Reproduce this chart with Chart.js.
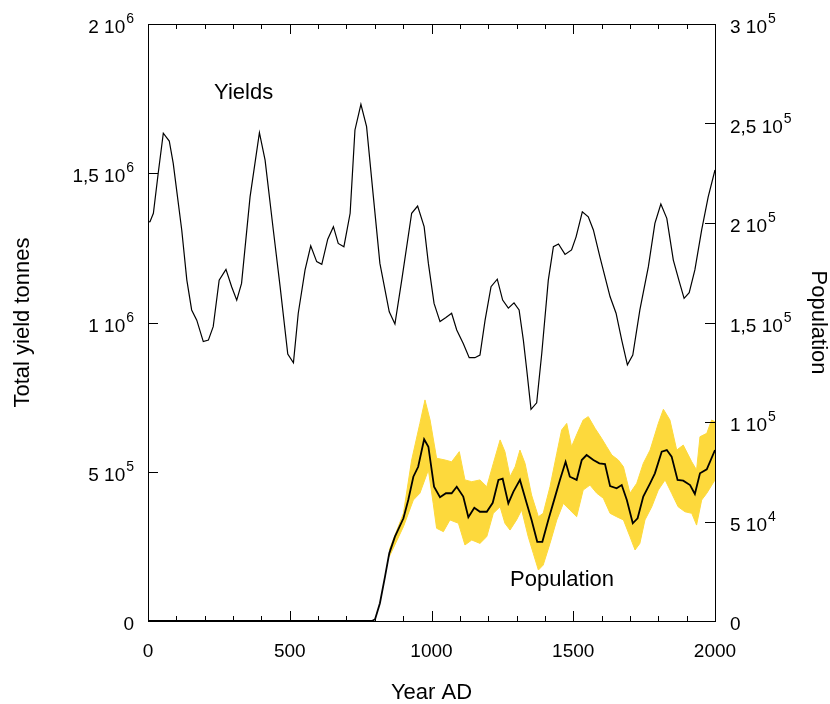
<!DOCTYPE html>
<html>
<head>
<meta charset="utf-8">
<script src="https://cdn.jsdelivr.net/npm/chart.js@4"></script>
<style>
  html, body { margin: 0; padding: 0; background: #fff; }
  canvas { display: block; }
</style>
</head>
<body>
<canvas id="chart" width="830" height="704"></canvas>
<script>
// yields, in thousand tonnes
const yieldYears = [0,7,19,36,54,75,89,119,137,154,172,195,213,230,251,275,295,313,330,360,393,413,442,466,493,513,530,554,574,595,613,634,654,671,691,713,730,751,771,795,818,851,871,895,930,951,974,989,1009,1030,1051,1071,1089,1112,1133,1153,1171,1189,1210,1232,1251,1271,1291,1309,1324,1336,1351,1371,1389,1412,1430,1448,1471,1494,1510,1532,1553,1571,1594,1630,1651,1671,1691,1710,1735,1765,1788,1809,1830,1853,1874,1891,1909,1929,1953,1976,2000];
const yieldThousands = [1337,1338,1366,1500,1634,1608,1533,1310,1142,1042,1008,936,941,986,1142,1178,1120,1075,1131,1421,1636,1544,1310,1120,894,865,1031,1176,1257,1204,1195,1279,1321,1265,1254,1366,1645,1731,1656,1421,1198,1036,995,1142,1366,1390,1321,1198,1064,1003,1017,1031,975,930,882,882,891,1008,1120,1145,1075,1048,1066,1042,941,841,709,731,897,1142,1254,1263,1228,1243,1287,1371,1354,1310,1220,1086,1031,941,858,891,1042,1187,1332,1397,1349,1209,1137,1081,1100,1176,1310,1421,1511];

// population (mean)
const popYears = [0,790,801,818,836,851,871,901,918,936,953,974,989,1009,1030,1051,1071,1089,1112,1130,1151,1171,1195,1216,1236,1251,1271,1289,1312,1336,1353,1373,1391,1412,1436,1453,1473,1488,1512,1530,1547,1571,1592,1612,1630,1653,1671,1689,1710,1727,1747,1771,1788,1812,1830,1847,1868,1888,1912,1929,1947,1971,2000];
const popValues = [0,0,900,8900,22300,34000,42400,51600,60800,72500,77500,91300,87600,67500,62200,64200,64200,67500,62500,52100,56900,54900,54900,59400,70900,71500,59100,65000,70900,59100,50800,39800,39800,50800,62500,70900,80000,72500,70900,80900,83400,80900,79200,78900,67800,66700,68300,60800,49100,51600,62500,69200,74200,85100,85900,82600,70900,70500,68300,63800,74200,76200,85900];

// population spread (yellow band)
const bandUpperYears = [851,901,930,959,977,995,1018,1048,1071,1098,1118,1142,1171,1195,1218,1242,1259,1277,1295,1312,1330,1353,1377,1394,1418,1442,1459,1477,1494,1514,1535,1553,1577,1600,1618,1636,1659,1677,1700,1724,1747,1771,1800,1818,1841,1865,1888,1918,1935,1947,1971,1988,2000];
const bandUpper = [35700,54100,80900,99300,111100,101000,81800,80900,80000,85100,70900,70000,70900,67500,79200,91000,85100,72500,77500,85900,79200,63300,52400,54100,67500,84300,96000,99300,87600,94300,101000,102700,96800,91800,87600,83400,80900,77500,64200,69200,79200,85900,99300,106400,101000,85900,88400,80000,75900,92600,94300,101000,100100];
const bandLowerYears = [851,901,936,959,989,1006,1018,1042,1065,1095,1118,1142,1171,1195,1218,1242,1259,1277,1300,1318,1341,1359,1377,1394,1418,1442,1465,1488,1512,1535,1559,1583,1606,1630,1653,1677,1700,1718,1735,1753,1777,1800,1824,1847,1870,1894,1918,1935,1953,1971,2000];
const bandLower = [32300,47400,60800,64200,75900,59100,46600,44900,50800,49100,38200,40700,39000,42400,54100,57400,49100,45700,50800,55800,42400,34000,25600,28100,39000,50800,59100,55800,52400,65800,68300,64200,61700,54100,52400,50800,42400,35700,39000,50800,57400,65800,70900,64200,57400,54900,54100,48200,60800,64200,70900];

// "^" marks the exponent
const yieldTickLabels = ['0', '5 10^5', '1 10^6', '1,5 10^6', '2 10^6'];
const popTickLabels = ['0', '5 10^4', '1 10^5', '1,5 10^5', '2 10^5', '2,5 10^5', '3 10^5'];
const yearTickLabels = ['0', '500', '1000', '1500', '2000'];

const FONT = "'Liberation Sans', Arial, Helvetica, sans-serif";
const YELLOW = '#fdd93c';

const pts = (xs, ys) => xs.map((x, i) => ({ x, y: ys[i] }));

function drawPowerLabel(ctx, text, x, y, align) {
    const [base, exp] = text.split('^');
    ctx.font = '19px ' + FONT;
    const wb = ctx.measureText(base).width;
    ctx.font = '14px ' + FONT;
    const we = exp ? ctx.measureText(exp).width + 1 : 0;
    const left = align === 'right' ? x - wb - we : x;
    ctx.font = '19px ' + FONT;
    ctx.fillText(base, left, y + 9);
    if (exp) {
        ctx.font = '14px ' + FONT;
        ctx.fillText(exp, left + wb + 1, y - 1);
    }
}

// frame, inward ticks, y labels with exponents, curve labels
const framePlugin = {
    id: 'frame',
    afterDatasetsDraw(chart) {
        const { ctx, chartArea: a, scales } = chart;
        ctx.save();
        ctx.strokeStyle = '#000';
        ctx.lineWidth = 1;
        ctx.beginPath();
        scales.x.ticks.forEach(t => {
            const px = Math.round(scales.x.getPixelForValue(t.value)) + 0.5;
            const len = t.value % 500 === 0 ? 10 : 5;
            ctx.moveTo(px, a.bottom); ctx.lineTo(px, a.bottom - len);
            ctx.moveTo(px, a.top); ctx.lineTo(px, a.top + len);
        });
        scales.y.ticks.forEach(t => {
            const py = Math.round(scales.y.getPixelForValue(t.value)) + 0.5;
            ctx.moveTo(a.left, py); ctx.lineTo(a.left + 10, py);
        });
        scales.yPop.ticks.forEach(t => {
            const py = Math.round(scales.yPop.getPixelForValue(t.value)) + 0.5;
            ctx.moveTo(a.right, py); ctx.lineTo(a.right - 10, py);
        });
        ctx.stroke();
        ctx.strokeRect(a.left + 0.5, a.top + 0.5, a.right - a.left, a.bottom - a.top);

        ctx.fillStyle = '#000';
        ctx.textBaseline = 'alphabetic';
        ctx.textAlign = 'left';
        scales.y.ticks.forEach((t, i) => {
            drawPowerLabel(ctx, yieldTickLabels[i], a.left - 14, scales.y.getPixelForValue(t.value), 'right');
        });
        scales.yPop.ticks.forEach((t, i) => {
            drawPowerLabel(ctx, popTickLabels[i], a.right + 15, scales.yPop.getPixelForValue(t.value), 'left');
        });

        ctx.font = '22px ' + FONT;
        ctx.textBaseline = 'middle';
        ctx.fillText('Yields', scales.x.getPixelForValue(233), scales.y.getPixelForValue(1769000));
        ctx.fillText('Population', scales.x.getPixelForValue(1277), scales.yPop.getPixelForValue(20600));
        ctx.restore();
    }
};

new Chart(document.getElementById('chart'), {
    type: 'line',
    data: {
        datasets: [
            {
                label: 'Yields',
                data: pts(yieldYears, yieldThousands.map(v => v * 1000)),
                yAxisID: 'y',
                borderColor: '#000',
                borderWidth: 1.2,
                pointRadius: 0,
                fill: false
            },
            {
                label: 'Population',
                data: pts(popYears, popValues),
                yAxisID: 'yPop',
                borderColor: '#000',
                borderWidth: 1.8,
                pointRadius: 0,
                fill: false
            },
            {
                label: 'upper',
                data: pts(bandUpperYears, bandUpper),
                yAxisID: 'yPop',
                borderColor: YELLOW,
                borderWidth: 1,
                backgroundColor: YELLOW,
                pointRadius: 0,
                fill: '+1'
            },
            {
                label: 'lower',
                data: pts(bandLowerYears, bandLower),
                yAxisID: 'yPop',
                borderColor: YELLOW,
                borderWidth: 1,
                pointRadius: 0,
                fill: false
            }
        ]
    },
    options: {
        responsive: false,
        animation: false,
        devicePixelRatio: 1,
        layout: { padding: { top: 24, left: 0, right: 0, bottom: 0 } },
        elements: { line: { tension: 0 } },
        plugins: { legend: { display: false }, tooltip: { enabled: false } },
        scales: {
            x: {
                type: 'linear',
                min: 0, max: 2000,
                grid: { display: false },
                border: { display: false },
                ticks: {
                    stepSize: 100,
                    autoSkip: false,
                    maxRotation: 0,
                    padding: 11,
                    color: '#000',
                    font: { family: FONT, size: 19 },
                    callback: v => v % 500 === 0 ? yearTickLabels[v / 500] : ''
                },
                title: {
                    display: true, text: 'Year AD', color: '#000',
                    font: { family: FONT, size: 22, lineHeight: 1 },
                    padding: 0
                },
                afterFit: s => { s.height = 83; }
            },
            y: {
                position: 'left',
                min: 0, max: 2000000,
                grid: { display: false },
                border: { display: false },
                ticks: {
                    stepSize: 500000,
                    color: 'rgba(0,0,0,0)',
                    font: { family: FONT, size: 19 },
                    callback: (v, i) => yieldTickLabels[i]
                },
                title: {
                    display: true, text: 'Total yield tonnes', color: '#000',
                    font: { family: FONT, size: 22, lineHeight: 1 },
                    padding: 12
                },
                afterFit: s => { s.width = 148; }
            },
            yPop: {
                position: 'right',
                min: 0, max: 300000,
                grid: { display: false },
                border: { display: false },
                ticks: {
                    stepSize: 50000,
                    color: 'rgba(0,0,0,0)',
                    font: { family: FONT, size: 19 },
                    callback: (v, i) => popTickLabels[i]
                },
                title: {
                    display: true, text: 'Population', color: '#000',
                    font: { family: FONT, size: 22, lineHeight: 1 },
                    padding: 1
                },
                afterFit: s => { s.width = 115; }
            }
        }
    },
    plugins: [framePlugin]
});
</script>
</body>
</html>
